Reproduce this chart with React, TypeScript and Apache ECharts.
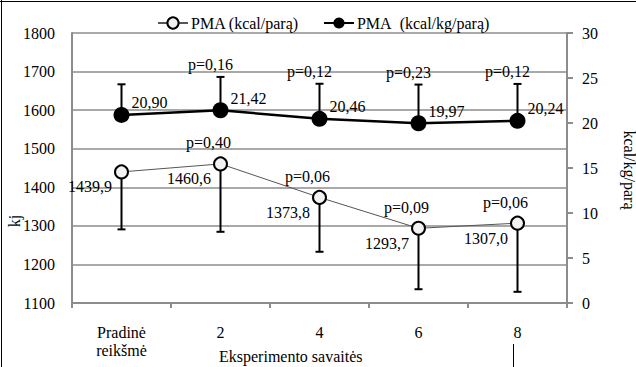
import { useEffect, useRef } from "react";
import * as echarts from "echarts";

// Weeks of the experiment
const categories = ["Pradinė\nreikšmė", "2", "4", "6", "8"];

// PMA in kcal per day (left axis), SD drawn downward
const kcalName = "PMA (kcal/parą)";
const kcalMean = [1439.9, 1460.6, 1373.8, 1293.7, 1307.0];
const kcalSD = [149, 176, 141, 158, 178];
const kcalP: (number | null)[] = [null, 0.4, 0.06, 0.09, 0.06];

// PMA in kcal per kg per day (right axis), SD drawn upward
const kgName = "PMA\u00a0 (kcal/kg/parą)";
const kgMean = [20.9, 21.42, 20.46, 19.97, 20.24];
const kgSD = [3.4, 3.7, 3.9, 4.3, 4.1];
const kgP: (number | null)[] = [null, 0.16, 0.12, 0.23, 0.12];

// Axis ranges
const leftMin = 1100;
const leftMax = 1800;
const leftStep = 100;
const rightMin = 0;
const rightMax = 30;
const rightStep = 5;

const FONT = "Liberation Serif";
const GRID_GRAY = "#8c8c8c";

const fmt = (v: number, d: number) => v.toFixed(d).replace(".", ",");

function errorRenderer(sds: number[], ps: (number | null)[], down: boolean) {
  return (params: any, api: any) => {
    const i = params.dataIndex;
    const x = api.value(0);
    const y = api.value(1);
    const sd = sds[i];
    const mid = api.coord([x, y]);
    const end = api.coord([x, down ? y - sd : y + sd]);
    const children: any[] = [
      {
        type: "line",
        shape: { x1: mid[0], y1: mid[1], x2: end[0], y2: end[1] },
        style: { stroke: "#000", lineWidth: 2 },
      },
      {
        type: "line",
        shape: { x1: end[0] - 4, y1: end[1], x2: end[0] + 4, y2: end[1] },
        style: { stroke: "#000", lineWidth: 2 },
      },
    ];
    const p = ps[i];
    if (p != null) {
      const tx = down ? mid[0] - 12 : end[0] - 10;
      const ty = down ? mid[1] - 21 : end[1] - 12;
      children.push({
        type: "text",
        x: tx,
        y: ty,
        style: {
          text: "p=" + fmt(p, 2),
          fill: "#000",
          fontSize: 16,
          fontFamily: FONT,
          align: "center",
          verticalAlign: "middle",
        },
      });
    }
    return { type: "group", children };
  };
}

export default function App() {
  const ref = useRef<HTMLDivElement>(null);

  useEffect(() => {
    if (!ref.current) return;
    const chart = echarts.init(ref.current, undefined, { renderer: "svg" });
    const textStyle = { fontFamily: FONT, fontSize: 16, color: "#000" };

    chart.setOption({
      animation: false,
      backgroundColor: "#fff",
      textStyle: { fontFamily: FONT },
      grid: { left: 72, right: 69, top: 33, bottom: 64 },
      legend: {
        data: [kcalName, kgName],
        top: 10,
        left: 152,
        itemGap: 24,
        itemWidth: 30,
        itemHeight: 14,
        textStyle: { ...textStyle, padding: [0, 0, 0, -2] },
      },
      xAxis: {
        type: "category",
        data: categories,
        boundaryGap: true,
        axisLine: { lineStyle: { color: GRID_GRAY, width: 2 } },
        axisTick: { show: true, length: 5, lineStyle: { color: GRID_GRAY, width: 2 } },
        axisLabel: { ...textStyle, margin: 20, lineHeight: 18 },
      },
      yAxis: [
        {
          type: "value",
          min: leftMin,
          max: leftMax,
          interval: leftStep,
          axisLine: { show: true, lineStyle: { color: GRID_GRAY, width: 2 } },
          axisTick: { show: false },
          splitLine: { lineStyle: { color: GRID_GRAY, width: 1.5 } },
          axisLabel: { ...textStyle, margin: 17, formatter: (v: number) => String(v) },
        },
        {
          type: "value",
          min: rightMin,
          max: rightMax,
          interval: rightStep,
          position: "right",
          axisLine: { show: true, lineStyle: { color: GRID_GRAY, width: 2 } },
          axisTick: { show: true, length: 6, lineStyle: { color: GRID_GRAY, width: 2 } },
          splitLine: { show: false },
          axisLabel: { ...textStyle, margin: 15, formatter: (v: number) => String(v) },
        },
      ],
      graphic: [
        { type: "line", shape: { x1: 1.5, y1: 0, x2: 1.5, y2: 367 }, style: { stroke: "#000", lineWidth: 1 } },
        { type: "line", shape: { x1: 0, y1: 1.5, x2: 636, y2: 1.5 }, style: { stroke: "#000", lineWidth: 1 } },
        { type: "line", shape: { x1: 513.5, y1: 344, x2: 513.5, y2: 367 }, style: { stroke: "#000", lineWidth: 1 } },
        {
          type: "text",
          x: 219,
          y: 356,
          style: { text: "Eksperimento savaitės", fill: "#000", fontSize: 16, fontFamily: FONT, verticalAlign: "middle" },
        },
        {
          type: "text",
          x: 14,
          y: 221,
          rotation: Math.PI / 2,
          style: { text: "kj", fill: "#000", fontSize: 16, fontFamily: FONT, align: "center", verticalAlign: "middle" },
        },
        {
          type: "text",
          x: 629,
          y: 170,
          rotation: -Math.PI / 2,
          style: { text: "kcal/kg/parą", fill: "#000", fontSize: 16, fontFamily: FONT, align: "center", verticalAlign: "middle" },
        },
      ],
      series: [
        {
          type: "custom",
          yAxisIndex: 0,
          z: 1,
          data: kcalMean.map((v, i) => [i, v]),
          renderItem: errorRenderer(kcalSD, kcalP, true),
        },
        {
          type: "custom",
          yAxisIndex: 1,
          z: 1,
          data: kgMean.map((v, i) => [i, v]),
          renderItem: errorRenderer(kgSD, kgP, false),
        },
        {
          name: kcalName,
          type: "line",
          yAxisIndex: 0,
          z: 3,
          data: kcalMean,
          symbol: "circle",
          symbolSize: 13,
          lineStyle: { color: "#555", width: 1 },
          itemStyle: { color: "#f2f2f2", borderColor: "#000", borderWidth: 2 },
          label: {
            show: true,
            position: "left",
            distance: 2,
            offset: [0, 15],
            ...textStyle,
            formatter: (p: any) => fmt(p.value, 1),
          },
        },
        {
          name: kgName,
          type: "line",
          yAxisIndex: 1,
          z: 3,
          data: kgMean,
          symbol: "circle",
          symbolSize: 16,
          lineStyle: { color: "#000", width: 2.5 },
          itemStyle: { color: "#000" },
          label: {
            show: true,
            position: "right",
            distance: 2,
            offset: [0, -12],
            ...textStyle,
            formatter: (p: any) => fmt(p.value, 2),
          },
        },
      ],
    });

    return () => chart.dispose();
  }, []);

  return (
    <div
      ref={ref}
      style={{ position: "fixed", left: 0, top: 0, width: 636, height: 367 }}
    />
  );
}
